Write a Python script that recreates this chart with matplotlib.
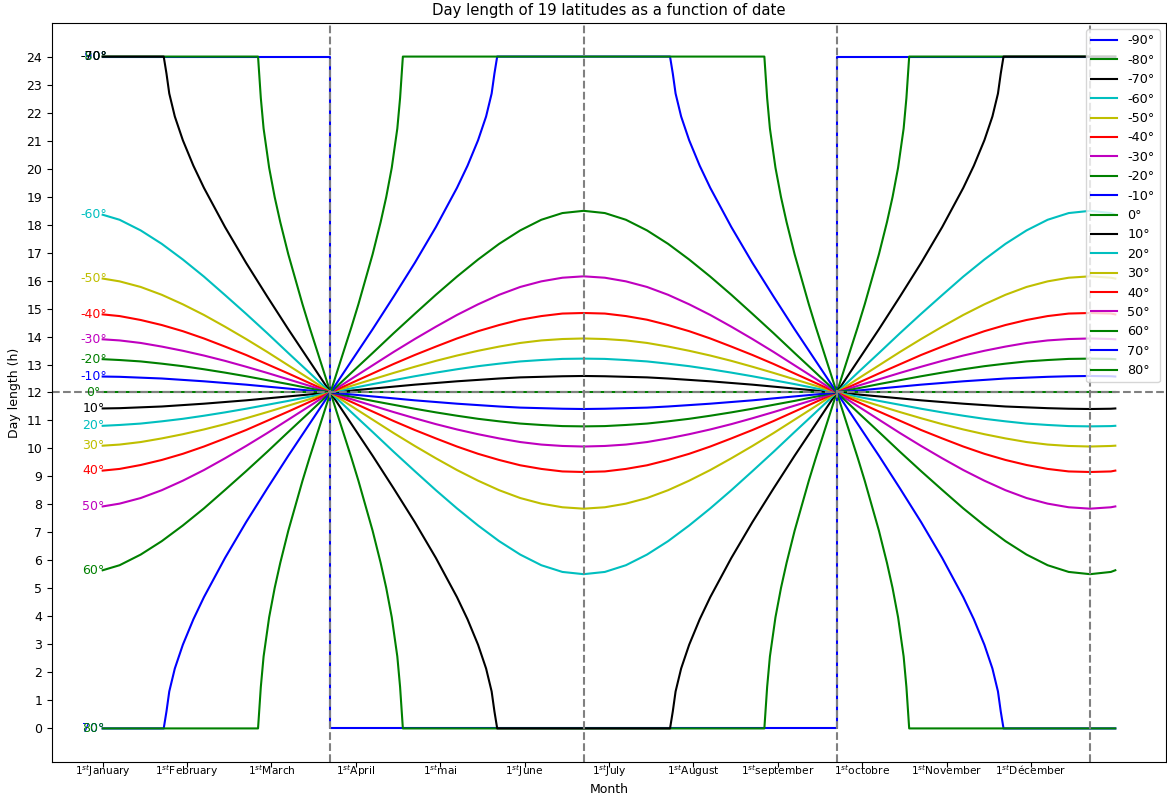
#!/usr/bin/env python3
"""
Day length of the latitudes from -90 to 80 degrees over one year.
"""

import numpy as np
import matplotlib
matplotlib.use("Agg")
import matplotlib.pyplot as plt

# Day of year (0..365) at which the smooth curves are read
days = [0, 6.1, 13.7, 21.3, 28.9, 36.5, 44.1, 51.7, 59.3, 66.9,
        74.5, 82.1, 89.7, 97.3, 104.9, 112.5, 120.1, 127.7, 135.3, 142.9,
        150.5, 158.1, 165.7, 173.35, 181.0, 188.6, 196.2, 203.8, 211.4, 219.0,
        226.6, 234.2, 241.8, 249.4, 257.0, 264.6, 272.2, 279.8, 287.4, 295.0,
        302.6, 310.2, 317.8, 325.4, 333.0, 340.6, 348.2, 355.9, 363.4, 365]

# Polar latitudes need their own days (sharp transitions to 0 h / 24 h)
days_eq = [0, 365]
days_90 = [0, 82.1, 82.1, 264.6, 264.6, 365]
days_80 = [0, 56, 57, 58, 60, 62, 64, 66.9, 72, 74.5, 82.1, 89.7, 92.2, 97.3,
           100.2, 102.2, 104.2, 106.2, 107.2, 108.2, 238.5, 239.5, 240.5, 242.5,
           244.5, 246.5, 249.4, 254.5, 257.0, 264.6, 272.2, 274.7, 279.8, 282.7,
           284.7, 286.7, 288.7, 289.7, 290.7, 365]
days_70 = [0, 22, 23, 24, 26, 28.9, 32.7, 36.5, 44.1, 51.7, 59.3, 66.9, 74.5,
           82.1, 89.7, 97.3, 104.9, 112.5, 120.1, 127.7, 131.5, 135.3, 138.2,
           140.2, 141.2, 142.2, 204.5, 205.5, 206.5, 208.5, 211.4, 215.2, 219.0,
           226.6, 234.2, 241.8, 249.4, 257.0, 264.6, 272.2, 279.8, 287.4, 295.0,
           302.6, 310.2, 314.0, 317.8, 320.7, 322.7, 323.7, 324.7, 365]

# Day length (h)
len_m90 = [24, 24, 0, 0, 24, 24]
len_m80 = [24, 24, 22.52, 21.43, 20.03, 18.98, 18.09, 16.94, 15.16, 14.35, 12.0,
           9.65, 8.84, 7.06, 5.91, 5.02, 3.97, 2.57, 1.48, 0, 0, 1.48, 2.57, 3.97,
           5.02, 5.91, 7.06, 8.84, 9.65, 12.0, 14.35, 15.16, 16.94, 18.09, 18.98,
           20.03, 21.43, 22.52, 24, 24]
len_m70 = [24, 24, 23.39, 22.68, 21.86, 21.01, 20.10, 19.31, 17.91, 16.63, 15.43,
           14.26, 13.13, 12.0, 10.87, 9.74, 8.57, 7.37, 6.09, 4.69, 3.90, 2.99,
           2.14, 1.32, 0.61, 0, 0, 0.61, 1.32, 2.14, 2.99, 3.90, 4.69, 6.09, 7.37,
           8.57, 9.74, 10.87, 12.0, 13.13, 14.26, 15.43, 16.63, 17.91, 19.31, 20.10,
           21.01, 21.86, 22.68, 23.39, 24, 24]
len_m60 = [18.35, 18.17, 17.79, 17.31, 16.75, 16.14, 15.48, 14.81, 14.12, 13.41,
           12.71, 12.00, 11.29, 10.59, 9.88, 9.19, 8.51, 7.86, 7.25, 6.69,
           6.21, 5.83, 5.59, 5.51, 5.59, 5.83, 6.21, 6.69, 7.25, 7.86,
           8.51, 9.19, 9.88, 10.59, 11.29, 12.00, 12.71, 13.41, 14.12, 14.81,
           15.48, 16.14, 16.75, 17.31, 17.79, 18.17, 18.41, 18.49, 18.41, 18.35]
len_m50 = [16.07, 15.97, 15.77, 15.49, 15.15, 14.77, 14.35, 13.91, 13.45, 12.97,
           12.49, 12.00, 11.51, 11.03, 10.55, 10.09, 9.65, 9.23, 8.85, 8.51,
           8.23, 8.03, 7.90, 7.85, 7.90, 8.03, 8.23, 8.51, 8.85, 9.23,
           9.65, 10.09, 10.55, 11.03, 11.51, 12.00, 12.49, 12.97, 13.45, 13.91,
           14.35, 14.77, 15.15, 15.49, 15.77, 15.97, 16.10, 16.15, 16.10, 16.07]
len_m40 = [14.79, 14.73, 14.59, 14.41, 14.19, 13.93, 13.64, 13.34, 13.01, 12.68,
           12.34, 12.00, 11.66, 11.32, 10.98, 10.66, 10.36, 10.07, 9.81, 9.59,
           9.40, 9.27, 9.18, 9.16, 9.18, 9.27, 9.40, 9.59, 9.81, 10.07,
           10.36, 10.66, 10.98, 11.32, 11.66, 12.00, 12.34, 12.68, 13.01, 13.34,
           13.64, 13.93, 14.19, 14.41, 14.59, 14.73, 14.82, 14.84, 14.82, 14.79]
len_m30 = [13.90, 13.86, 13.77, 13.64, 13.49, 13.32, 13.13, 12.92, 12.70, 12.47,
           12.24, 12.00, 11.76, 11.53, 11.30, 11.08, 10.87, 10.68, 10.51, 10.36,
           10.23, 10.14, 10.09, 10.07, 10.09, 10.14, 10.23, 10.36, 10.51, 10.68,
           10.87, 11.08, 11.30, 11.53, 11.76, 12.00, 12.24, 12.47, 12.70, 12.92,
           13.13, 13.32, 13.49, 13.64, 13.77, 13.86, 13.91, 13.93, 13.91, 13.90]
len_m20 = [13.19, 13.16, 13.11, 13.03, 12.94, 12.83, 12.71, 12.58, 12.44, 12.30,
           12.15, 12.00, 11.85, 11.70, 11.56, 11.42, 11.29, 11.17, 11.06, 10.97,
           10.89, 10.84, 10.80, 10.79, 10.80, 10.84, 10.89, 10.97, 11.06, 11.17,
           11.29, 11.42, 11.56, 11.70, 11.85, 12.00, 12.15, 12.30, 12.44, 12.58,
           12.71, 12.83, 12.94, 13.03, 13.11, 13.16, 13.20, 13.21, 13.20, 13.19]
len_m10 = [12.57, 12.56, 12.53, 12.50, 12.45, 12.40, 12.34, 12.28, 12.21, 12.14,
           12.07, 12.00, 11.93, 11.86, 11.79, 11.72, 11.66, 11.60, 11.55, 11.50,
           11.46, 11.44, 11.42, 11.41, 11.42, 11.44, 11.46, 11.50, 11.55, 11.60,
           11.66, 11.72, 11.79, 11.86, 11.93, 12.00, 12.07, 12.14, 12.21, 12.28,
           12.34, 12.40, 12.45, 12.50, 12.53, 12.56, 12.58, 12.59, 12.58, 12.57]
len_0 = [12.0, 12.0]
len_p10 = [11.43, 11.44, 11.47, 11.50, 11.55, 11.60, 11.66, 11.72, 11.79, 11.86,
           11.93, 12.00, 12.07, 12.14, 12.21, 12.28, 12.34, 12.40, 12.45, 12.50,
           12.54, 12.56, 12.58, 12.59, 12.58, 12.56, 12.54, 12.50, 12.45, 12.40,
           12.34, 12.28, 12.21, 12.14, 12.07, 12.00, 11.93, 11.86, 11.79, 11.72,
           11.66, 11.60, 11.55, 11.50, 11.47, 11.44, 11.42, 11.41, 11.42, 11.43]
len_p20 = [10.81, 10.84, 10.89, 10.97, 11.06, 11.17, 11.29, 11.42, 11.56, 11.70,
           11.85, 12.00, 12.15, 12.30, 12.44, 12.58, 12.71, 12.83, 12.94, 13.03,
           13.11, 13.16, 13.20, 13.21, 13.20, 13.16, 13.11, 13.03, 12.94, 12.83,
           12.71, 12.58, 12.44, 12.30, 12.15, 12.00, 11.85, 11.70, 11.56, 11.42,
           11.29, 11.17, 11.06, 10.97, 10.89, 10.84, 10.80, 10.79, 10.80, 10.81]
len_p30 = [10.10, 10.14, 10.23, 10.36, 10.51, 10.68, 10.87, 11.08, 11.30, 11.53,
           11.76, 12.00, 12.24, 12.47, 12.70, 12.92, 13.13, 13.32, 13.49, 13.64,
           13.77, 13.86, 13.91, 13.93, 13.91, 13.86, 13.77, 13.64, 13.49, 13.32,
           13.13, 12.92, 12.70, 12.47, 12.24, 12.00, 11.76, 11.53, 11.30, 11.08,
           10.87, 10.68, 10.51, 10.36, 10.23, 10.14, 10.09, 10.07, 10.09, 10.10]
len_p40 = [9.21, 9.27, 9.41, 9.59, 9.81, 10.07, 10.36, 10.66, 10.99, 11.32,
           11.66, 12.00, 12.34, 12.68, 13.02, 13.34, 13.64, 13.93, 14.19, 14.41,
           14.60, 14.73, 14.82, 14.84, 14.82, 14.73, 14.60, 14.41, 14.19, 13.93,
           13.64, 13.34, 13.02, 12.68, 12.34, 12.00, 11.66, 11.32, 10.99, 10.66,
           10.36, 10.07, 9.81, 9.59, 9.41, 9.27, 9.18, 9.16, 9.18, 9.21]
len_p50 = [7.93, 8.03, 8.23, 8.51, 8.85, 9.23, 9.65, 10.09, 10.55, 11.03,
           11.51, 12.00, 12.49, 12.97, 13.45, 13.91, 14.35, 14.77, 15.15, 15.49,
           15.77, 15.97, 16.10, 16.15, 16.10, 15.97, 15.77, 15.49, 15.15, 14.77,
           14.35, 13.91, 13.45, 12.97, 12.49, 12.00, 11.51, 11.03, 10.55, 10.09,
           9.65, 9.23, 8.85, 8.51, 8.23, 8.03, 7.90, 7.85, 7.90, 7.93]
len_p60 = [5.65, 5.83, 6.21, 6.69, 7.25, 7.86, 8.52, 9.19, 9.88, 10.59,
           11.29, 12.00, 12.71, 13.41, 14.12, 14.81, 15.49, 16.14, 16.75, 17.31,
           17.79, 18.17, 18.41, 18.49, 18.41, 18.17, 17.79, 17.31, 16.75, 16.14,
           15.49, 14.81, 14.12, 13.41, 12.71, 12.00, 11.29, 10.59, 9.88, 9.19,
           8.52, 7.86, 7.25, 6.69, 6.21, 5.83, 5.59, 5.51, 5.59, 5.65]
len_p70 = [0, 0, 0.61, 1.32, 2.14, 2.99, 3.90, 4.69, 6.09, 7.37, 8.57, 9.74, 10.87,
           12.0, 13.13, 14.26, 15.43, 16.63, 17.91, 19.31, 20.10, 21.01, 21.86,
           22.68, 23.39, 24, 24, 23.39, 22.68, 21.86, 21.01, 20.10, 19.31, 17.91,
           16.63, 15.43, 14.26, 13.13, 12.0, 10.87, 9.74, 8.57, 7.37, 6.09, 4.69,
           3.90, 2.99, 2.14, 1.32, 0.61, 0, 0]
len_p80 = [0, 0, 1.48, 2.57, 3.97, 5.02, 5.91, 7.06, 8.84, 9.65, 12.0, 14.35, 15.16,
           16.94, 18.09, 18.98, 20.03, 21.43, 22.52, 24, 24, 22.52, 21.43, 20.03,
           18.98, 18.09, 16.94, 15.16, 14.35, 12.0, 9.65, 8.84, 7.06, 5.91, 5.02,
           3.97, 2.57, 1.48, 0, 0]

# Equinoxes and solstices (day of year)
season_days = [82.1, 173.35, 264.6, 355.85]

month_labels = ["January", "February", "March", "April", "mai", "June", "July",
                "August", "september", "octobre", "November", "Décember"]

series = [
    (-90, days_90, len_m90), (-80, days_80, len_m80), (-70, days_70, len_m70),
    (-60, days, len_m60), (-50, days, len_m50), (-40, days, len_m40),
    (-30, days, len_m30), (-20, days, len_m20), (-10, days, len_m10),
    (0, days_eq, len_0), (10, days, len_p10), (20, days, len_p20),
    (30, days, len_p30), (40, days, len_p40), (50, days, len_p50),
    (60, days, len_p60), (70, days_70, len_p70), (80, days_80, len_p80),
]

colors = ["b", "g", "k", "c", "y", "r", "m", "g"]

fig, ax = plt.subplots(figsize=(11.67, 7.98), dpi=100)
fig.subplots_adjust(left=0.0446, right=0.9991, bottom=0.0451, top=0.9712)

for i, (lat, x, y) in enumerate(series):
    col = colors[i % len(colors)]
    ax.plot(x, y, color=col, linewidth=1.5, label=f"{lat}°")
    # latitude tag at the start of each curve
    ax.text(-3.3, y[0], f"{lat}°", color=col, ha="center", va="center", fontsize=9)

# Reference lines
for d in season_days:
    ax.axvline(d, color="grey", linestyle="--", linewidth=1.5)
ax.axhline(12, color="grey", linestyle="--", linewidth=1.5)

ax.set_xticks(np.arange(12) * 365 / 12)
ax.set_xticklabels([f"1$^{{st}}${m}" for m in month_labels], fontsize=7.7)
ax.tick_params(axis="x", pad=-2.5)
ax.set_yticks(range(25))
ax.tick_params(axis="y", labelsize=9)

ax.set_xlabel("Month", fontsize=9, labelpad=3)
ax.set_ylabel("Day length (h)", fontsize=9)
ax.set_title("Day length of 19 latitudes as a function of date", fontsize=10.7)

ax.legend(loc="upper right", fontsize=9.2)

plt.savefig("out.png", dpi=100)
plt.close()
